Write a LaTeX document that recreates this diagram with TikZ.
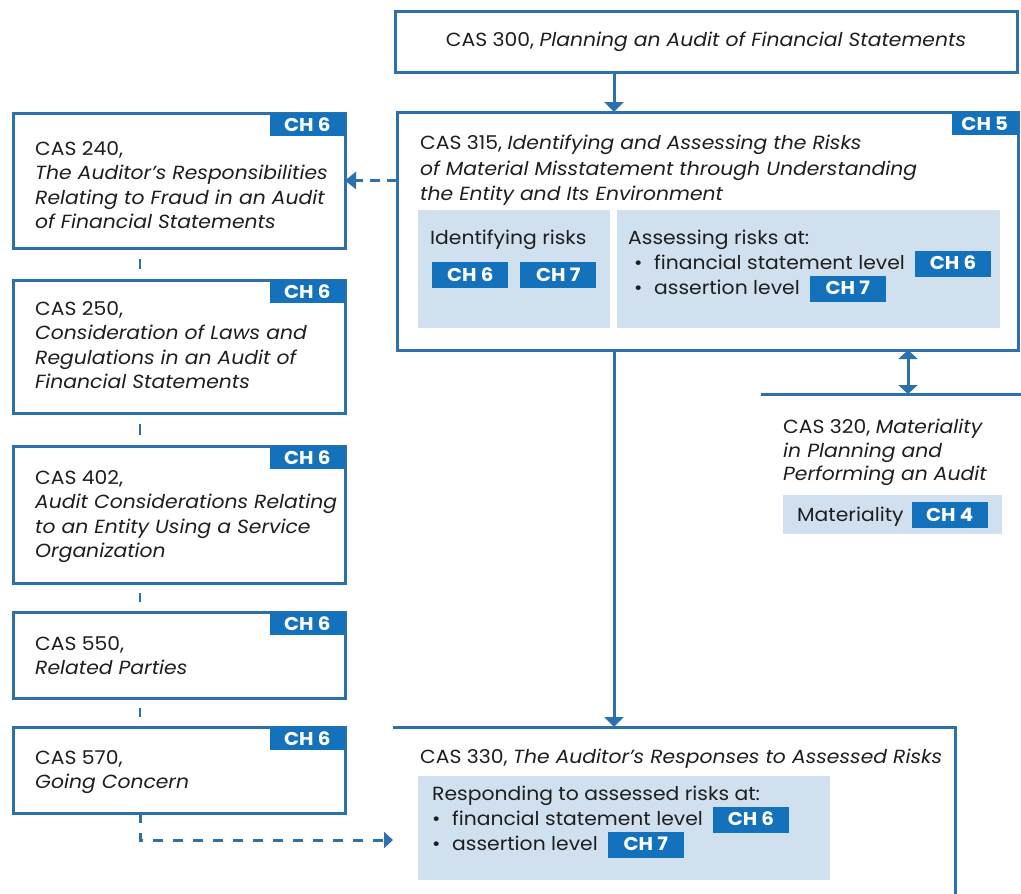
\documentclass[tikz,border=0pt]{standalone}
\usepackage{fontspec}
\setmainfont{Poppins}[FakeStretch=1.07]
\usetikzlibrary{arrows.meta,calc}
\definecolor{frameblue}{RGB}{44,112,172}
\definecolor{tagblue}{RGB}{20,113,188}
\definecolor{panelblue}{RGB}{208,224,239}
\definecolor{ink}{RGB}{30,30,30}
\setlength\lineskiplimit{-100pt}
% blue chapter label used inside running text
\newcommand\chtag[1]{{\setlength{\fboxsep}{0pt}\colorbox{tagblue}{\makebox[76pt]{\rule[-7pt]{0pt}{26pt}\textcolor{white}{\bfseries\fontsize{18.5}{18.5}\selectfont CH~#1}}}}}
\newcommand\bul{\makebox[20pt][l]{\textbullet}}
\begin{document}
\begin{tikzpicture}[x=1pt,y=-1pt,
  box/.style={draw=frameblue, line width=3pt, fill=white, inner sep=0pt, outer sep=0pt, anchor=north west},
  openbox/.style={inner sep=0pt, outer sep=0pt, anchor=north west},
  cornertag/.style={fill=tagblue, text=white, font=\bfseries\fontsize{18.5}{18.5}\selectfont, minimum width=75pt, minimum height=23pt, inner sep=0pt, anchor=north east},
  body/.style={anchor=north west, align=left, inner sep=0pt, text=ink, font=\fontsize{19}{24.5}\selectfont},
  panel/.style={fill=panelblue, inner sep=0pt, outer sep=0pt, anchor=north west},
  link/.style={draw=frameblue, line width=3pt},
  edge/.style={draw=frameblue, line width=3pt, line join=miter},
  solidtip/.style={-{Triangle[length=10pt,width=19pt]}},
]
\useasboundingbox (0,0) rectangle (1021,894);
\clip (0,0) rectangle (1021,894);
\fill[white] (0,0) rectangle (1021,894);

% ---- planning and risk assessment column ----
\node[box, minimum width=622pt, minimum height=61pt] (c300) at (395,11) {};
\node[body, anchor=center] at (c300.center) {CAS 300, \textit{Planning an Audit of Financial Statements}};

\node[box, minimum width=621pt, minimum height=238pt] (c315) at (397,112) {};
\node[cornertag, minimum width=66pt] at (c315.north east) {CH 5};
\node[body, font=\fontsize{19}{25.5}\selectfont] at (420,135) {CAS 315, \textit{Identifying and Assessing the Risks}\\ \textit{of Material Misstatement through Understanding}\\ \textit{the Entity and Its Environment}};
\node[panel, minimum width=192pt, minimum height=118pt] (idp) at (418,210) {};
\node[panel, minimum width=383pt, minimum height=118pt] (asp) at (617,210) {};
\node[body] at (430,230) {Identifying risks};
\node[body] at (432,262) {\chtag{6}\hspace{12pt}\chtag{7}};
\node[body, font=\fontsize{19}{25}\selectfont] at (628,230) {Assessing risks at:\\ \hspace*{6pt}\bul financial statement level\hspace{10pt}\chtag{6}\\ \hspace*{6pt}\bul assertion level\hspace{10pt}\chtag{7}};

\node[openbox, minimum width=300pt, minimum height=180pt] (c320) at (761,394) {};
\draw[edge] (c320.north west) -- (c320.north east);
\node[body, font=\fontsize{19}{23.5}\selectfont] at (783,419) {CAS 320, \textit{Materiality}\\ \textit{in Planning and}\\ \textit{Performing an Audit}};
\node[panel, minimum width=219pt, minimum height=39pt] (matp) at (783,495) {};
\node[body, anchor=base west] at (797,521) {Materiality\hspace{8pt}\chtag{4}};

\node[openbox, minimum width=562pt, minimum height=226pt] (c330) at (393,727) {};
\draw[edge] (c330.north west) -- (c330.north east) -- (c330.south east);
\node[body, anchor=base west] at (420,763) {CAS 330, \textit{The Auditor's Responses to Assessed Risks}};
\node[panel, minimum width=412pt, minimum height=104pt] (resp) at (418,776) {};
\node[body, font=\fontsize{19}{25}\selectfont] at (432,786) {Responding to assessed risks at:\\ \bul financial statement level\hspace{10pt}\chtag{6}\\ \bul assertion level\hspace{10pt}\chtag{7}};

% ---- specific risk areas column ----
\node[box, minimum width=332pt, minimum height=135pt] (c240) at (13,113) {};
\node[cornertag] at (c240.north east) {CH 6};
\node[body] at (35,141) {CAS 240,\\ \textit{The Auditor's Responsibilities}\\ \textit{Relating to Fraud in an Audit}\\ \textit{of Financial Statements}};

\node[box, minimum width=332pt, minimum height=133pt] (c250) at (13,280) {};
\node[cornertag] at (c250.north east) {CH 6};
\node[body] at (35,301) {CAS 250,\\ \textit{Consideration of Laws and}\\ \textit{Regulations in an Audit of}\\ \textit{Financial Statements}};

\node[box, minimum width=332pt, minimum height=137pt] (c402) at (13,446) {};
\node[cornertag] at (c402.north east) {CH 6};
\node[body] at (35,470) {CAS 402,\\ \textit{Audit Considerations Relating}\\ \textit{to an Entity Using a Service}\\ \textit{Organization}};

\node[box, minimum width=332pt, minimum height=86pt] (c550) at (13,612) {};
\node[cornertag] at (c550.north east) {CH 6};
\node[body] at (35,636) {CAS 550,\\ \textit{Related Parties}};

\node[box, minimum width=332pt, minimum height=86pt] (c570) at (13,727) {};
\node[cornertag] at (c570.north east) {CH 6};
\node[body] at (35,750) {CAS 570,\\ \textit{Going Concern}};

% ---- connectors ----
\coordinate (spine) at (614,0);
\coordinate (matx) at (908,0);
\coordinate (chain) at (140,0);

\draw[link, solidtip] (c300.south -| spine) -- (c315.north -| spine);
\draw[link, solidtip] (c315.south -| spine) -- (c330.north -| spine);
\draw[link, {Triangle[length=9pt,width=19pt]}-{Triangle[length=9pt,width=19pt]}] (c315.south -| matx) -- (c320.north -| matx);
\draw[link, dash pattern=on 10pt off 7pt, -{Triangle[length=11pt,width=17pt]}] (c315.west |- c240.east) -- (c240.east);

\draw[link, line width=2.5pt, shorten <=11pt, shorten >=11pt] (c240.south -| chain) -- (c250.north -| chain);
\draw[link, line width=2.5pt, shorten <=11pt, shorten >=11pt] (c250.south -| chain) -- (c402.north -| chain);
\draw[link, line width=2.5pt, shorten <=10pt, shorten >=10pt] (c402.south -| chain) -- (c550.north -| chain);
\draw[link, line width=2.5pt, shorten <=10pt, shorten >=10pt] (c550.south -| chain) -- (c570.north -| chain);
\draw[link, dash pattern=on 10pt off 10pt, -{Triangle[length=9pt,width=16pt]}] (c570.south -| chain) |- (c330.west);
\end{tikzpicture}
\end{document}
